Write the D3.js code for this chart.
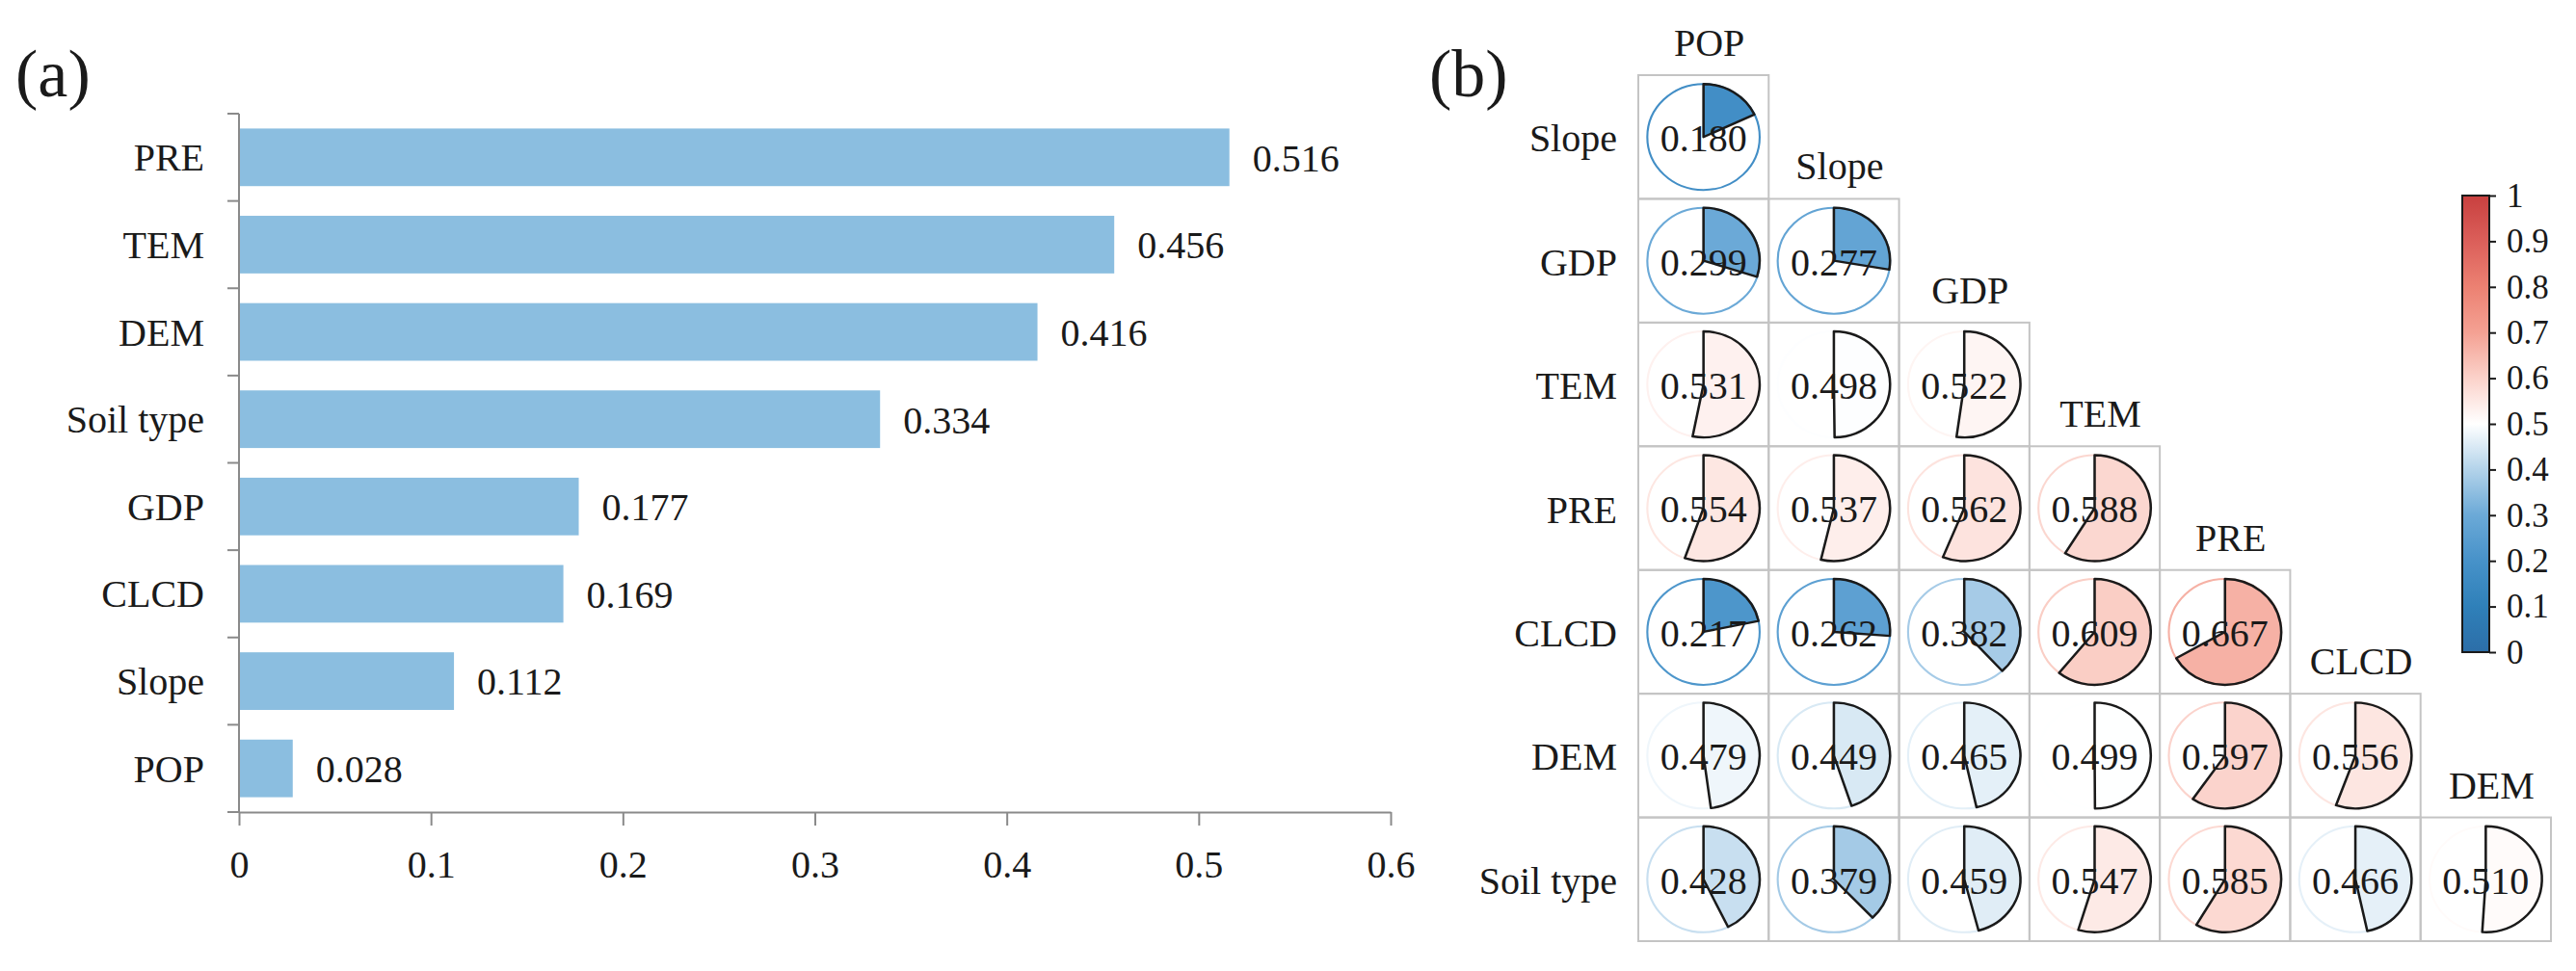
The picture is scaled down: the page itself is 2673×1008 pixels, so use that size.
<!DOCTYPE html>
<html>
<head>
<meta charset="utf-8">
<title>Factor detector and interaction</title>
<script src="https://cdn.jsdelivr.net/npm/d3@7"></script>
<style>
  body { margin: 0; background: #fff; }
  text { font-family: "Liberation Serif", "Times New Roman", serif; fill: #1a1a1a; }
</style>
</head>
<body>
<script>

// ---- data ----
var barCats = ['PRE', 'TEM', 'DEM', 'Soil type', 'GDP', 'CLCD', 'Slope', 'POP'];
var barVals = [0.516, 0.456, 0.416, 0.334, 0.177, 0.169, 0.112, 0.028];
var barTicks = [0, 0.1, 0.2, 0.3, 0.4, 0.5, 0.6];

var rowNames = ['Slope', 'GDP', 'TEM', 'PRE', 'CLCD', 'DEM', 'Soil type'];
var colNames = ['POP', 'Slope', 'GDP', 'TEM', 'PRE', 'CLCD', 'DEM'];
var qSlope = [0.180];
var qGDP   = [0.299, 0.277];
var qTEM   = [0.531, 0.498, 0.522];
var qPRE   = [0.554, 0.537, 0.562, 0.588];
var qCLCD  = [0.217, 0.262, 0.382, 0.609, 0.667];
var qDEM   = [0.479, 0.449, 0.465, 0.499, 0.597, 0.556];
var qSoil  = [0.428, 0.379, 0.459, 0.547, 0.585, 0.466, 0.510];
var qRows = [qSlope, qGDP, qTEM, qPRE, qCLCD, qDEM, qSoil];
var legendTicks = [0, 0.1, 0.2, 0.3, 0.4, 0.5, 0.6, 0.7, 0.8, 0.9, 1];

var W = 2673, H = 1008;
var svg = d3.select('body').append('svg')
  .attr('width', W).attr('height', H);

// ---------------- panel (a) ----------------
svg.append('text').attr('x', 16).attr('y', 100)
  .style('font-size', '70px').text('(a)');

var x = d3.scaleLinear().domain([0, 0.6]).range([248, 1443]);
var y = d3.scaleBand().domain(barCats).range([118, 843])
  .paddingInner(0.34).paddingOuter(0.17);

var axisCol = '#8a8a8a';
var a = svg.append('g');

a.selectAll('rect.bar')
  .data(barVals)
  .enter().append('rect')
  .attr('class', 'bar')
  .attr('x', x(0))
  .attr('y', function(d, i) { return y(barCats[i]); })
  .attr('width', function(d) { return x(d) - x(0); })
  .attr('height', y.bandwidth())
  .attr('fill', '#8bbee0');

a.selectAll('text.val')
  .data(barVals)
  .enter().append('text')
  .attr('class', 'val')
  .attr('x', function(d) { return x(d) + 24; })
  .attr('y', function(d, i) { return y(barCats[i]) + y.bandwidth() / 2; })
  .attr('dy', '0.36em')
  .style('font-size', '40px')
  .text(function(d) { return d.toFixed(3); });

// y axis (ticks on band boundaries)
var gap = (y.step() - y.bandwidth()) / 2;
var bounds = barCats.map(function(c) { return y(c) - gap; }).concat([y.range()[1]]);
a.append('line')
  .attr('x1', x(0)).attr('x2', x(0))
  .attr('y1', bounds[0]).attr('y2', y.range()[1])
  .attr('stroke', axisCol).attr('stroke-width', 2);
a.selectAll('line.yt')
  .data(bounds)
  .enter().append('line')
  .attr('class', 'yt')
  .attr('x1', x(0) - 12).attr('x2', x(0))
  .attr('y1', function(d) { return d; }).attr('y2', function(d) { return d; })
  .attr('stroke', axisCol).attr('stroke-width', 2);
a.selectAll('text.cat')
  .data(barCats)
  .enter().append('text')
  .attr('class', 'cat')
  .attr('x', 212)
  .attr('y', function(d) { return y(d) + y.bandwidth() / 2; })
  .attr('dy', '0.35em')
  .attr('text-anchor', 'end')
  .style('font-size', '40px')
  .text(function(d) { return d; });

// x axis
var xAxis = a.append('g')
  .attr('transform', 'translate(0,' + y.range()[1] + ')')
  .call(d3.axisBottom(x).tickValues(barTicks).tickSize(14).tickSizeOuter(0)
    .tickFormat(function(d) { return d === 0 ? '0' : d3.format('.1f')(d); }));
xAxis.attr('font-family', null);
xAxis.select('.domain').attr('stroke', axisCol).attr('stroke-width', 2);
xAxis.selectAll('.tick line').attr('stroke', axisCol).attr('stroke-width', 2);
xAxis.selectAll('.tick text')
  .attr('y', 40).attr('dy', '0.71em')
  .style('font-size', '40px').style('font-family', '"Liberation Serif", serif')
  .attr('fill', '#1a1a1a');

// ---------------- panel (b) ----------------
svg.append('text').attr('x', 1483).attr('y', 100)
  .style('font-size', '70px').text('(b)');

var cx = d3.scaleBand().domain(colNames).range([1700, 2647]);
var cy = d3.scaleBand().domain(rowNames).range([78, 977]);

var colorStops = ['#2c6ea8', '#2f80b9', '#4792c9', '#6ba9d7', '#b3d3ea', '#ffffff',
                  '#fbd2ca', '#f4a193', '#ec8172', '#db5f5a', '#c8403f'];
var color = d3.scaleLinear().domain(legendTicks).range(colorStops);

var cells = [];
qRows.forEach(function(row, i) {
  row.forEach(function(v, j) {
    cells.push({ r: rowNames[i], c: colNames[j], v: v });
  });
});

var b = svg.append('g');
var rad = 55, sx = 1.06;
var arc = d3.arc().innerRadius(0).outerRadius(rad).startAngle(0);

var cell = b.selectAll('g.cell')
  .data(cells)
  .enter().append('g')
  .attr('class', 'cell')
  .attr('transform', function(d) {
    return 'translate(' + cx(d.c) + ',' + cy(d.r) + ')';
  });

cell.append('rect')
  .attr('width', cx.bandwidth()).attr('height', cy.bandwidth())
  .attr('fill', 'none').attr('stroke', '#c4c4c4').attr('stroke-width', 2);

var pie = cell.append('g')
  .attr('transform', 'translate(' + cx.bandwidth() / 2 + ',' + cy.bandwidth() / 2 + ') scale(' + sx + ',1)');
pie.append('circle')
  .attr('r', rad)
  .attr('fill', 'none')
  .attr('stroke', function(d) { return color(d.v); })
  .attr('stroke-width', 2);
pie.append('path')
  .attr('d', function(d) { return arc({ endAngle: d.v * 2 * Math.PI }); })
  .attr('fill', function(d) { return color(d.v); })
  .attr('stroke', '#1a1a1a').attr('stroke-width', 2.4)
  .attr('stroke-linejoin', 'round');

cell.append('text')
  .attr('x', cx.bandwidth() / 2)
  .attr('y', cy.bandwidth() / 2 + 15)
  .attr('text-anchor', 'middle')
  .style('font-size', '40px')
  .text(function(d) { return d.v.toFixed(3); });

// row labels
b.selectAll('text.rl')
  .data(rowNames)
  .enter().append('text')
  .attr('class', 'rl')
  .attr('x', 1678)
  .attr('y', function(d) { return cy(d) + cy.bandwidth() / 2 + 15; })
  .attr('text-anchor', 'end')
  .style('font-size', '40px')
  .text(function(d) { return d; });

// column labels, above the top cell of each column
b.selectAll('text.cl')
  .data(colNames)
  .enter().append('text')
  .attr('class', 'cl')
  .attr('x', function(d) { return cx(d) + cx.bandwidth() / 2 + 6; })
  .attr('y', function(d, j) { return cy(rowNames[j]) - 20; })
  .attr('text-anchor', 'middle')
  .style('font-size', '40px')
  .text(function(d) { return d; });

// colour bar
var lg = d3.scaleLinear().domain([0, 1]).range([677, 203]);
var defs = svg.append('defs');
var grad = defs.append('linearGradient').attr('id', 'cbar')
  .attr('x1', 0).attr('y1', 1).attr('x2', 0).attr('y2', 0);
grad.selectAll('stop')
  .data(legendTicks)
  .enter().append('stop')
  .attr('offset', function(d) { return d; })
  .attr('stop-color', function(d) { return color(d); });

svg.append('rect')
  .attr('x', 2555).attr('y', lg(1))
  .attr('width', 28).attr('height', lg(0) - lg(1))
  .attr('fill', 'url(#cbar)')
  .attr('stroke', '#1a1a1a').attr('stroke-width', 2);

var lAxis = svg.append('g')
  .attr('transform', 'translate(2583,0)')
  .call(d3.axisRight(lg).tickValues(legendTicks).tickSize(7).tickSizeOuter(0)
    .tickFormat(function(d) { return d === 0 || d === 1 ? String(d) : d3.format('.1f')(d); }));
lAxis.attr('font-family', null);
lAxis.select('.domain').remove();
lAxis.selectAll('.tick line').attr('stroke', '#1a1a1a').attr('stroke-width', 2);
lAxis.selectAll('.tick text')
  .attr('x', 18)
  .style('font-size', '35px').style('font-family', '"Liberation Serif", serif')
  .attr('fill', '#1a1a1a');

</script>
</body>
</html>
